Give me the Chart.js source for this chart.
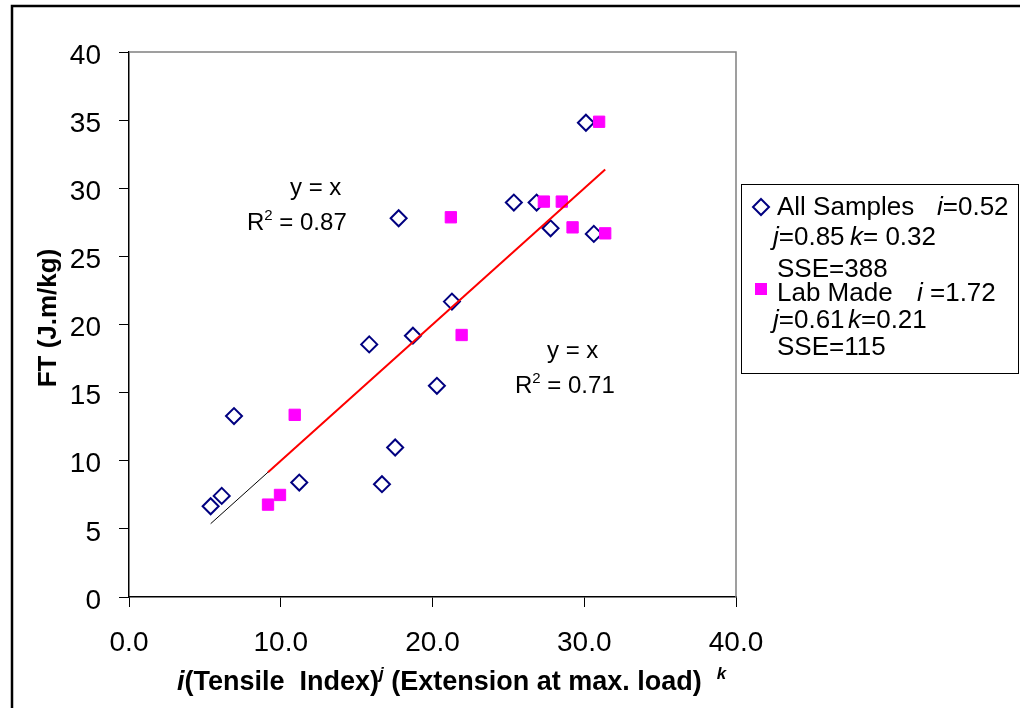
<!DOCTYPE html>
<html>
<head>
<meta charset="utf-8">
<script src="https://cdn.jsdelivr.net/npm/chart.js@4.4.1/dist/chart.umd.min.js"></script>
<style>
  html, body { margin: 0; padding: 0; background: #fff; }
  #wrap { width: 1020px; height: 708px; }
</style>
</head>
<body>
<div id="wrap"><canvas id="ftChart" width="1020" height="708"></canvas></div>
<script>
// All samples: model value (x) against measured FT (y)
const allX = [5.38, 6.11, 6.92, 11.22, 16.67, 17.54, 15.83, 18.71, 17.77, 20.29, 21.28, 25.36, 26.86, 27.78, 30.63, 30.11];
const allY = [6.66, 7.42, 13.28, 8.40, 8.28, 10.97, 18.54, 19.18, 27.80, 15.50, 21.68, 28.95, 28.95, 27.06, 26.65, 34.81];

// Lab made sheets only
const labX = [9.16, 9.95, 10.92, 21.21, 21.92, 27.34, 28.52, 29.23, 31.38, 30.98];
const labY = [6.78, 7.49, 13.37, 27.87, 19.23, 29.02, 29.02, 27.13, 26.69, 34.88];

// y = x trend lines over each series' range
const allFitX = [5.38, 30.63];
const allFitY = [5.38, 30.63];
const labFitX = [9.16, 31.38];
const labFitY = [9.16, 31.38];

const xMin = 0, xMax = 40, xStep = 10;
const yMin = 0, yMax = 40, yStep = 5;

const FONT = '"Liberation Sans", Arial, Helvetica, sans-serif';

const toPoints = (xs, ys) => xs.map((x, i) => ({ x: x, y: ys[i] }));

// draws a row of text pieces, some italic and some raised
function drawRuns(ctx, x, y, runs, size, weight) {
    for (const r of runs) {
        if (r.at !== undefined) x = r.at;
        const s = r.sup ? Math.round(size * 0.62) : size;
        ctx.font = (r.it ? 'italic ' : '') + weight + ' ' + s + 'px ' + FONT;
        ctx.fillText(r.t, x, y - (r.sup ? size * 0.42 : 0));
        x += ctx.measureText(r.t).width;
    }
}

const decorations = {
    id: 'decorations',
    beforeDraw(chart) {
        const ctx = chart.ctx;
        ctx.save();
        ctx.fillStyle = '#fff';
        ctx.fillRect(0, 0, chart.width, chart.height);
        ctx.restore();
    },
    afterDraw(chart) {
        const ctx = chart.ctx;
        const a = chart.chartArea;
        ctx.save();

        // plot box top and right edges
        ctx.strokeStyle = '#808080';
        ctx.lineWidth = 1.5;
        ctx.beginPath();
        ctx.moveTo(a.left, a.top);
        ctx.lineTo(a.right, a.top);
        ctx.lineTo(a.right, a.bottom);
        ctx.stroke();

        // outer frame
        ctx.strokeStyle = '#000';
        ctx.lineWidth = 2.5;
        ctx.beginPath();
        ctx.moveTo(12, chart.height);
        ctx.lineTo(12, 6);
        ctx.lineTo(chart.width, 6);
        ctx.stroke();

        ctx.fillStyle = '#000';
        ctx.textBaseline = 'alphabetic';
        ctx.textAlign = 'left';

        // axis titles
        drawRuns(ctx, 177, 690, [
            { t: 'i', it: true },
            { t: '(Tensile  Index)' },
            { t: 'j', it: true, sup: true },
            { t: ' (Extension at max. load)  ' },
            { t: 'k', it: true, sup: true }
        ], 27, 'bold');

        ctx.save();
        ctx.translate(56, 318);
        ctx.rotate(-Math.PI / 2);
        ctx.textAlign = 'center';
        ctx.font = 'bold 26px ' + FONT;
        ctx.fillText('FT (J.m/kg)', 0, 0);
        ctx.restore();

        // trend line equations
        drawRuns(ctx, 290, 195, [{ t: 'y = x' }], 24, 'normal');
        drawRuns(ctx, 247, 230, [{ t: 'R' }, { t: '2', sup: true }, { t: ' = 0.87' }], 24, 'normal');
        drawRuns(ctx, 547, 358, [{ t: 'y = x' }], 24, 'normal');
        drawRuns(ctx, 515, 393, [{ t: 'R' }, { t: '2', sup: true }, { t: ' = 0.71' }], 24, 'normal');

        // legend box
        ctx.strokeStyle = '#000';
        ctx.lineWidth = 1;
        ctx.strokeRect(741.5, 184.5, 277, 189);

        ctx.strokeStyle = '#000080';
        ctx.lineWidth = 2;
        ctx.beginPath();
        ctx.moveTo(761, 199);
        ctx.lineTo(769, 207);
        ctx.lineTo(761, 215);
        ctx.lineTo(753, 207);
        ctx.closePath();
        ctx.stroke();

        ctx.fillStyle = '#ff00ff';
        ctx.fillRect(755, 283, 12, 12);

        ctx.fillStyle = '#000';
        drawRuns(ctx, 777, 215, [{ t: 'All Samples' }, { t: 'i', it: true, at: 937 }, { t: '=0.52' }], 26, 'normal');
        drawRuns(ctx, 773, 245, [{ t: 'j', it: true }, { t: '=0.85' }, { t: 'k', it: true, at: 850 }, { t: '= 0.32' }], 26, 'normal');
        drawRuns(ctx, 777, 277, [{ t: 'SSE=388' }], 26, 'normal');
        drawRuns(ctx, 777, 301, [{ t: 'Lab Made' }, { t: 'i', it: true, at: 917 }, { t: ' =1.72' }], 26, 'normal');
        drawRuns(ctx, 773, 328, [{ t: 'j', it: true }, { t: '=0.61' }, { t: 'k', it: true, at: 848 }, { t: '=0.21' }], 26, 'normal');
        drawRuns(ctx, 777, 355, [{ t: 'SSE=115' }], 26, 'normal');

        ctx.restore();
    }
};

const ctx = document.getElementById('ftChart');

new Chart(ctx, {
    type: 'scatter',
    data: {
        datasets: [
            {
                label: 'All Samples',
                data: toPoints(allX, allY),
                pointStyle: 'rectRot',
                pointRadius: 8,
                pointHoverRadius: 8,
                pointBorderWidth: 2,
                borderColor: '#000080',
                backgroundColor: 'rgba(0,0,0,0)',
                order: 3
            },
            {
                label: 'Lab Made',
                data: toPoints(labX, labY),
                pointStyle: 'rect',
                pointRadius: 8,
                pointHoverRadius: 8,
                pointBorderWidth: 1,
                borderColor: '#ff00ff',
                backgroundColor: '#ff00ff',
                order: 2
            },
            {
                label: 'All fit',
                data: toPoints(allFitX, allFitY),
                showLine: true,
                pointRadius: 0,
                borderColor: '#000',
                borderWidth: 1,
                order: 1
            },
            {
                label: 'Lab fit',
                data: toPoints(labFitX, labFitY),
                showLine: true,
                pointRadius: 0,
                borderColor: '#ff0000',
                borderWidth: 2,
                order: 0
            }
        ]
    },
    options: {
        responsive: false,
        animation: false,
        layout: { padding: { left: 0, top: 52, right: 284, bottom: 0 } },
        plugins: {
            legend: { display: false },
            tooltip: { enabled: false }
        },
        scales: {
            x: {
                type: 'linear',
                min: xMin,
                max: xMax,
                afterFit: (scale) => { scale.height = 111; },
                ticks: {
                    stepSize: xStep,
                    color: '#000',
                    padding: 19,
                    font: { family: FONT, size: 28 },
                    callback: (v) => Number(v).toFixed(1)
                },
                grid: { drawOnChartArea: false, tickLength: 10, tickColor: '#000', tickWidth: 1 },
                border: { color: '#000', width: 1.5 }
            },
            y: {
                type: 'linear',
                min: yMin,
                max: yMax,
                afterFit: (scale) => { scale.width = 129; },
                ticks: {
                    stepSize: yStep,
                    color: '#000',
                    padding: 18,
                    labelOffset: 4,
                    font: { family: FONT, size: 28 }
                },
                grid: { drawOnChartArea: false, tickLength: 10, tickColor: '#000', tickWidth: 1 },
                border: { color: '#000', width: 1.5 }
            }
        }
    },
    plugins: [decorations]
});
</script>
</body>
</html>
